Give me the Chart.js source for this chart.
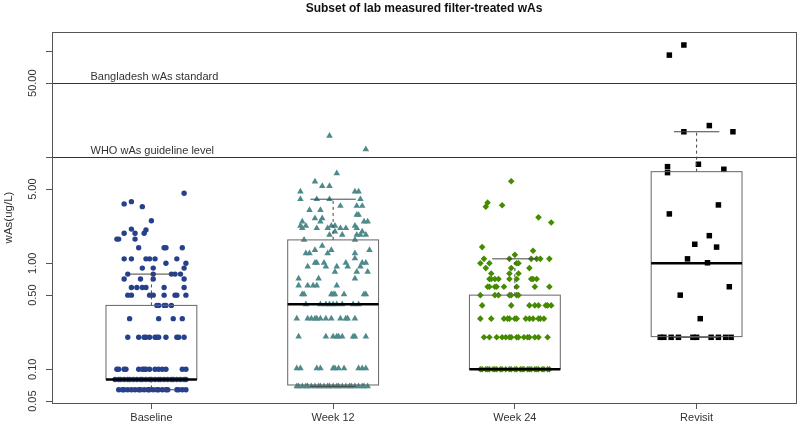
<!DOCTYPE html>
<html>
<head>
<meta charset="utf-8">
<script src="https://cdn.jsdelivr.net/npm/chart.js@4.4.1/dist/chart.umd.min.js"></script>
<style>
  html, body { margin: 0; padding: 0; background: #fff; }
  canvas { display: block; }
</style>
</head>
<body>
<canvas id="boxChart" width="800" height="428"></canvas>
<script>
// groups along the x axis
const groups = ["Baseline", "Week 12", "Week 24", "Revisit"];
const groupColors = ["#27408B", "#4F8A8B", "#458B00", "#000000"];
const groupShapes = ["circle", "triangle", "rectRot", "rect"];
const groupRadius = [2.7, 3.8, 3.3, 3.9];

// box stats: [lower whisker, Q1, median, Q3, upper whisker]
const baselineBox = [0.064, 0.08, 0.08, 0.40, 0.79];
const week12Box = [0.069, 0.071, 0.41, 1.66, 4.02];
const week24Box = [0.10, 0.10, 0.10, 0.50, 1.10];
const revisitBox = [0.20, 0.203, 1.0, 7.31, 17.4];

// points: [value, [jitter offsets]]
const baselinePts = [
  [0.064, [-0.18,-0.16,-0.15,-0.13,-0.11,-0.09,-0.07,-0.06,-0.04,-0.02,-0.01,0.01,0.03,0.04,0.06,0.08,0.09,0.14,0.15,0.17,0.19]],
  [0.080, [-0.20,-0.18,-0.17,-0.15,-0.13,-0.12,-0.10,-0.08,-0.06,-0.05,-0.03,-0.01,0.00,0.02,0.04,0.05,0.07,0.09,0.11,0.12,0.14,0.16,0.18,0.19]],
  [0.100, [-0.19,-0.18,-0.15,-0.14,-0.07,-0.05,-0.04,-0.03,-0.01,0.02,0.04,0.06,0.08,0.17,0.19]],
  [0.20, [-0.13,-0.07,-0.04,-0.03,-0.01,0.02,0.03,0.04,0.08,0.14,0.15,0.18]],
  [0.30, [-0.12,0.04,0.12,0.17]],
  [0.40, [0.03,0.04,0.07,0.08,0.11]],
  [0.50, [-0.13,-0.11,-0.01,0.01,0.07,0.13,0.14,0.19]],
  [0.59, [-0.11,-0.08,-0.05,-0.03,0.07,0.18]],
  [0.71, [-0.15,-0.06,0.01,0.18]],
  [0.79, [-0.13,0.01,0.11,0.13,0.16]],
  [0.90, [-0.05,0.01,0.18]],
  [1.0, [0.08,0.19]],
  [1.1, [-0.15,-0.11,-0.03,-0.01,0.02,0.14]],
  [1.4, [-0.07,0.07,0.08,0.17]],
  [1.69, [-0.19,-0.18,-0.09]],
  [1.92, [-0.15,-0.09,-0.04]],
  [2.06, [-0.03]],
  [2.1, [-0.11]],
  [2.52, [0.00]],
  [3.42, [-0.05]],
  [3.63, [-0.15]],
  [3.81, [-0.11]],
  [4.57, [0.18]]
];
const week12Pts = [
  [0.069, [-0.20,-0.19,-0.17,-0.15,-0.14,-0.12,-0.10,-0.08,-0.07,-0.05,-0.03,-0.02,0.00,0.02,0.03,0.05,0.07,0.09,0.10,0.12,0.14,0.16,0.17,0.19]],
  [0.102, [-0.20,-0.18,-0.09,-0.07,0.00,0.01,0.03,0.06,0.14,0.16,0.18]],
  [0.203, [-0.19,-0.04,0.00,0.02,0.03,0.05,0.11,0.12,0.18]],
  [0.30, [-0.20,-0.14,-0.12,-0.10,-0.09,-0.07,-0.04,-0.01,0.04,0.07,0.08,0.12]],
  [0.41, [-0.15,-0.07,-0.04,-0.02,0.00,0.02,0.05,0.11,0.14]],
  [0.51, [-0.17,-0.16,-0.01,0.00,0.01,0.06,0.17,0.18]],
  [0.615, [-0.19,-0.14,-0.11,-0.09,0.02]],
  [0.716, [-0.19,-0.08,0.12]],
  [0.83, [0.01,0.13,0.19]],
  [0.93, [-0.14,-0.04,0.02,0.08,0.15]],
  [1.01, [-0.10,-0.09,-0.05,0.07,0.16,0.18]],
  [1.11, [0.12]],
  [1.24, [-0.15,-0.13,-0.03,0.12]],
  [1.33, [-0.10,-0.01,0.20]],
  [1.46, [-0.06]],
  [1.66, [-0.16,0.12]],
  [1.85, [-0.02,0.05,0.13,0.15,0.18]],
  [1.99, [0.01,0.16]],
  [2.14, [-0.17,-0.09,-0.03,0.04,0.07,0.13]],
  [2.25, [-0.18,-0.15,-0.01,0.01,0.12]],
  [2.47, [-0.17,-0.07,0.17,0.19]],
  [2.65, [-0.10,-0.06]],
  [2.86, [0.13,0.14]],
  [3.18, [-0.13,-0.07]],
  [3.47, [0.04,0.13,0.16]],
  [4.02, [-0.18,-0.09,-0.02,0.15]],
  [4.74, [-0.18,0.12,0.14]],
  [5.35, [-0.06,-0.02]],
  [5.89, [-0.10]],
  [7.06, [0.02]],
  [11.9, [0.18]],
  [15.9, [-0.02]]
];
const week24Pts = [
  [0.10, [-0.19,-0.18,-0.16,-0.15,-0.14,-0.12,-0.11,-0.10,-0.08,-0.07,-0.05,-0.03,-0.02,0.00,0.01,0.03,0.04,0.05,0.07,0.08,0.09,0.11,0.12,0.13,0.15,0.16,0.18,0.19]],
  [0.20, [-0.17,-0.14,-0.10,-0.07,-0.05,-0.03,-0.02,0.01,0.02,0.05,0.07,0.08,0.11,0.13,0.18]],
  [0.30, [-0.19,-0.13,-0.06,-0.04,-0.03,0.00,0.01,0.06,0.08,0.10,0.13,0.14,0.16]],
  [0.40, [-0.18,-0.02,0.08,0.11,0.13,0.17,0.18,0.20]],
  [0.50, [-0.19,-0.11,-0.09,-0.03,-0.02,0.01,0.02]],
  [0.60, [-0.15,-0.14,-0.11,-0.10,-0.06,0.01,0.11,0.19]],
  [0.71, [-0.14,-0.13,-0.11,-0.09,-0.03,0.01,0.09,0.10,0.12]],
  [0.80, [-0.13,-0.03,0.02]],
  [0.90, [-0.16,-0.02,0.08]],
  [1.00, [-0.19,-0.14,0.01,0.02]],
  [1.10, [-0.17,-0.03,0.09,0.12,0.14,0.19]],
  [1.20, [0.00]],
  [1.31, [0.10]],
  [1.42, [-0.18]],
  [2.42, [0.20]],
  [2.71, [0.13]],
  [3.42, [-0.16]],
  [3.52, [-0.07]],
  [3.73, [-0.15]],
  [5.93, [-0.02]]
];
const revisitPts = [
  [114.6, [-0.07]],
  [92, [-0.15]],
  [19.9, [0.07]],
  [17.4, [-0.07,0.20]],
  [8.15, [-0.16]],
  [7.16, [-0.16]],
  [8.59, [0.01]],
  [7.7, [0.15]],
  [3.55, [0.12]],
  [2.92, [-0.15]],
  [1.82, [0.07]],
  [1.51, [-0.01]],
  [1.42, [0.11]],
  [1.10, [-0.05]],
  [1.01, [0.06]],
  [0.60, [0.18]],
  [0.50, [-0.09]],
  [0.30, [0.02]],
  [0.20, [-0.20,-0.18,-0.14,-0.10,-0.02,0.00,0.08,0.12,0.16,0.19]]
];

// y axis ticks (labels for 100 and 10 are dropped, as in the original)
const yTicks = [0.05, 0.1, 0.5, 1, 5, 10, 50, 100];
const yTickLabels = ["0.05", "0.10", "0.50", "1.00", "5.00", "", "50.00", ""];

// reference levels
const refLines = [
  { value: 50, label: "Bangladesh wAs standard" },
  { value: 10, label: "WHO wAs guideline level" }
];

const allBoxes = [baselineBox, week12Box, week24Box, revisitBox];
const allPts = [baselinePts, week12Pts, week24Pts, revisitPts];

function toPoints(rows, pos) {
  const out = [];
  rows.forEach(([v, offs]) => offs.forEach(o => out.push({ x: pos + o, y: v })));
  return out;
}

Chart.defaults.font.family = "'Liberation Sans', Arial, sans-serif";
Chart.defaults.color = "#333";

const FRAME = "#555";

// reference lines and their labels, under the points
const refPlugin = {
  id: "refLines",
  beforeDatasetsDraw(chart) {
    const { ctx, chartArea: a, scales } = chart;
    ctx.save();
    ctx.strokeStyle = "#333";
    ctx.lineWidth = 1;
    ctx.font = "11px 'Liberation Sans', Arial, sans-serif";
    ctx.fillStyle = "#333";
    ctx.textBaseline = "alphabetic";
    refLines.forEach(r => {
      const y = Math.round(scales.y.getPixelForValue(r.value)) + 0.5;
      ctx.beginPath();
      ctx.moveTo(a.left, y);
      ctx.lineTo(a.right, y);
      ctx.stroke();
      ctx.fillText(r.label, scales.x.getPixelForValue(0.665), y - 4);
    });
    ctx.restore();
  }
};

// boxplots on top of the points
const boxPlugin = {
  id: "boxes",
  afterDatasetsDraw(chart) {
    const { ctx, scales } = chart;
    const xs = scales.x, ys = scales.y;
    ctx.save();
    allBoxes.forEach((b, i) => {
      const c = i + 1;
      const xl = xs.getPixelForValue(c - 0.25);
      const xr = xs.getPixelForValue(c + 0.25);
      const xc = xs.getPixelForValue(c);
      const cl = xs.getPixelForValue(c - 0.125);
      const cr = xs.getPixelForValue(c + 0.125);
      const [lo, q1, med, q3, hi] = b.map(v => ys.getPixelForValue(v));
      // whiskers
      ctx.strokeStyle = "#444";
      ctx.lineWidth = 1;
      ctx.setLineDash([3, 3]);
      ctx.beginPath();
      ctx.moveTo(xc, q3); ctx.lineTo(xc, hi);
      ctx.moveTo(xc, q1); ctx.lineTo(xc, lo);
      ctx.stroke();
      ctx.setLineDash([]);
      ctx.beginPath();
      ctx.moveTo(cl, hi); ctx.lineTo(cr, hi);
      if (lo < q1 - 0.5 || lo > q1 + 0.5) { ctx.moveTo(cl, lo); ctx.lineTo(cr, lo); }
      ctx.stroke();
      // box
      ctx.strokeStyle = "#666";
      ctx.strokeRect(xl, q3, xr - xl, q1 - q3);
      // median
      ctx.strokeStyle = "#000";
      ctx.lineWidth = 2.6;
      ctx.beginPath();
      ctx.moveTo(xl, med); ctx.lineTo(xr, med);
      ctx.stroke();
    });
    ctx.restore();
  },
  afterDraw(chart) {
    const { ctx, chartArea: a, scales } = chart;
    ctx.save();
    // frame
    ctx.strokeStyle = FRAME;
    ctx.lineWidth = 1;
    ctx.strokeRect(Math.round(a.left) + 0.5, Math.round(a.top) + 0.5,
      Math.round(a.right - a.left), Math.round(a.bottom - a.top));
    // y tick labels, rotated like the original
    ctx.fillStyle = "#333";
    ctx.font = "11px 'Liberation Sans', Arial, sans-serif";
    ctx.textAlign = "center";
    ctx.textBaseline = "middle";
    yTicks.forEach((v, i) => {
      if (!yTickLabels[i]) return;
      const y = scales.y.getPixelForValue(v);
      ctx.save();
      ctx.translate(a.left - 19, y);
      ctx.rotate(-Math.PI / 2);
      ctx.fillText(yTickLabels[i], 0, 0);
      ctx.restore();
    });
    // axis title
    ctx.save();
    ctx.font = "11.5px 'Liberation Sans', Arial, sans-serif";
    ctx.translate(9, (a.top + a.bottom) / 2);
    ctx.rotate(-Math.PI / 2);
    ctx.fillText("wAs(ug/L)", 0, 0);
    ctx.restore();
    // main title
    ctx.fillStyle = "#111";
    ctx.font = "bold 12px 'Liberation Sans', Arial, sans-serif";
    ctx.fillText("Subset of lab measured filter-treated wAs", (a.left + a.right) / 2, 9);
    ctx.restore();
  }
};

new Chart(document.getElementById("boxChart"), {
  type: "scatter",
  data: {
    datasets: groups.map((g, i) => ({
      label: g,
      data: toPoints(allPts[i], i + 1),
      backgroundColor: groupColors[i],
      borderWidth: 0,
      pointStyle: groupShapes[i],
      pointRadius: groupRadius[i],
      pointHoverRadius: groupRadius[i]
    }))
  },
  options: {
    responsive: false,
    animation: false,
    devicePixelRatio: 1,
    layout: { padding: { top: 32, right: 4, left: 0, bottom: 0 } },
    plugins: { legend: { display: false }, tooltip: { enabled: false } },
    scales: {
      x: {
        type: "linear",
        bounds: "data",
        min: 0.453,
        max: 4.547,
        afterBuildTicks: s => { s.ticks = [1, 2, 3, 4].map(v => ({ value: v })); },
        afterFit: s => { s.height = 25; },
        ticks: {
          autoSkip: false,
          maxRotation: 0,
          padding: 2,
          color: "#333",
          font: { size: 11 },
          callback: v => groups[v - 1]
        },
        grid: { drawOnChartArea: false, tickLength: 6, color: FRAME },
        border: { display: false }
      },
      y: {
        type: "logarithmic",
        bounds: "data",
        min: 0.048,
        max: 152,
        afterBuildTicks: s => { s.ticks = yTicks.map(v => ({ value: v })); },
        afterFit: s => { s.width = 52; },
        ticks: { display: false },
        grid: { drawOnChartArea: false, tickLength: 6, color: FRAME },
        border: { display: false }
      }
    }
  },
  plugins: [refPlugin, boxPlugin]
});
</script>
</body>
</html>
